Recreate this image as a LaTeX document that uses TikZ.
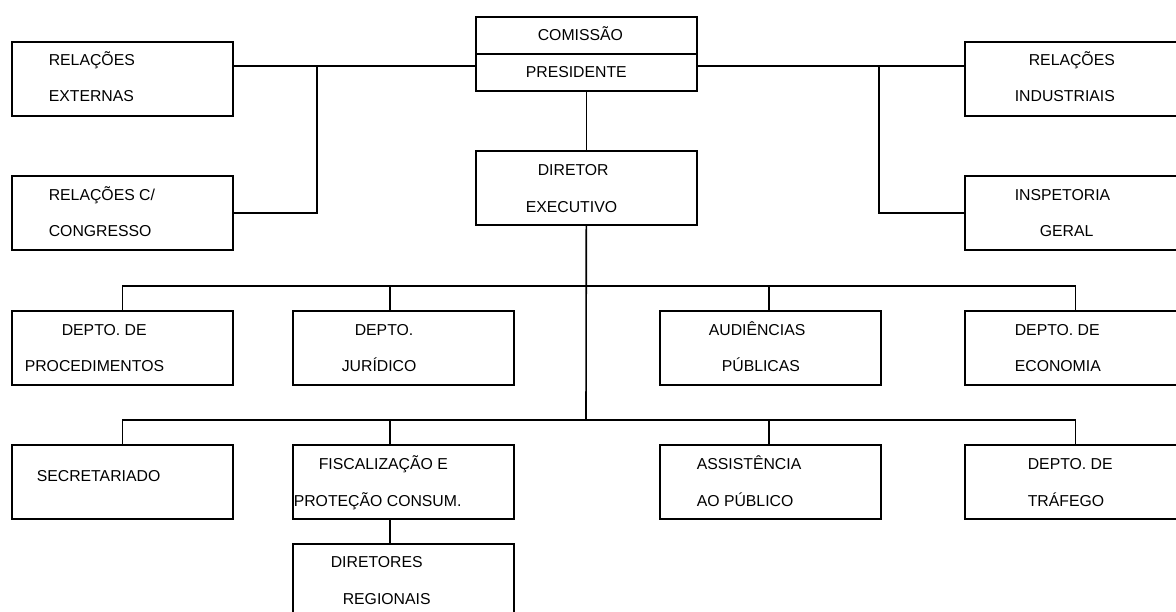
\documentclass[tikz,border=0pt]{standalone}
\usepackage{fontspec}
\setmainfont{Liberation Sans}
\usetikzlibrary{positioning,calc}

\tikzset{
  orgbox/.style={draw, rectangle, anchor=north west, inner sep=0pt,
                 minimum width=221pt, minimum height=74pt},
  lbl/.style={anchor=base west, inner sep=0pt,
              font=\fontsize{15.8}{19}\selectfont}
}

\begin{document}
\begin{tikzpicture}[x=1pt, y=-1pt, line width=1.6pt]
                    \useasboundingbox (0,0) rectangle (1176,612);
                    \clip (0,0) rectangle (1176,612);
                    % boxes
                    \node[orgbox] (comissao) at (475,16)  {};
                    \node[orgbox] (diretor)  at (475,150) {};
                    \node[orgbox] (relext)   at (11,41)   {};
                    \node[orgbox] (relcong)  at (11,175)  {};
                    \node[orgbox] (relind)   at (964,41)  {};
                    \node[orgbox] (inspet)   at (964,175) {};
                    \node[orgbox] (procd)    at (11,310)  {};
                    \node[orgbox] (jurid)    at (292,310) {};
                    \node[orgbox] (audien)   at (659,310) {};
                    \node[orgbox] (econ)     at (964,310) {};
                    \node[orgbox] (secret)   at (11,444)  {};
                    \node[orgbox] (fiscal)   at (292,444) {};
                    \node[orgbox] (assist)   at (659,444) {};
                    \node[orgbox] (trafego)  at (964,444) {};
                    \node[orgbox] (regio)    at (292,543) {};
                    \draw (comissao.west) -- (comissao.east);
                    % junctions
                    \coordinate (jl) at (317,66);
                    \coordinate (jr) at (879,66);
                    \coordinate (b1) at (586,286);
                    \coordinate (b2) at (586,420);
                    \coordinate (k1) at (390,286);
                    \coordinate (k2) at (390,420);
                    \coordinate (m1) at (769,286);
                    \coordinate (m2) at (769,420);
                    % connectors
                    \draw (relext.east |- jl) -- (comissao.west |- jl);
                    \draw (comissao.east |- jr) -- (relind.west |- jr);
                    \draw (jl) |- (relcong.east);
                    \draw (jr) |- (inspet.west);
                    \draw (comissao) -- (diretor);
                    \draw (diretor.south) -- (b2);
                    \draw (procd.north) |- (b1) -| (econ.north);
                    \draw (secret.north) |- (b2) -| (trafego.north);
                    \draw (k1) -- (k1 |- jurid.north);
                    \draw (m1) -- (m1 |- audien.north);
                    \draw (k2) -- (k2 |- fiscal.north);
                    \draw (m2) -- (m2 |- assist.north);
                    \draw (k2 |- fiscal.south) -- (k2 |- regio.north);
                    % texts
                    \node[lbl] (comissaoA) at (537,41)    {COMISSÃO};
                    \node[lbl] (comissaoB) at (525,77.7)  {PRESIDENTE};
                    \node[lbl] (diretorA)  at (537,175.7) {DIRETOR};
                    \node[lbl] (diretorB)  at (525,212.3) {EXECUTIVO};
                    \node[lbl] (relextA)   at (48,65.7)   {RELAÇÕES};
                    \node[lbl] (relextB)   at (48,102)    {EXTERNAS};
                    \node[lbl] (relcongA)  at (48,200.7)  {RELAÇÕES C/};
                    \node[lbl] (relcongB)  at (48,237)    {CONGRESSO};
                    \node[lbl] (relindA)   at (1028,65.7) {RELAÇÕES};
                    \node[lbl] (relindB)   at (1014,102)  {INDUSTRIAIS};
                    \node[lbl] (inspetA)   at (1014,200.7) {INSPETORIA};
                    \node[lbl] (inspetB)   at (1039,237)  {GERAL};
                    \node[lbl] (procdA)    at (61,335.7)  {DEPTO. DE};
                    \node[lbl] (procdB)    at (24,371.7)  {PROCEDIMENTOS};
                    \node[lbl] (juridA)    at (354,335.7) {DEPTO.};
                    \node[lbl] (juridB)    at (341,371.7) {JURÍDICO};
                    \node[lbl] (audienA)   at (708,335.7) {AUDIÊNCIAS};
                    \node[lbl] (audienB)   at (721,371.7) {PÚBLICAS};
                    \node[lbl] (econA)     at (1014,335.7) {DEPTO. DE};
                    \node[lbl] (econB)     at (1014,371.7) {ECONOMIA};
                    \node[lbl] (secretA)   at (36,481.7)  {SECRETARIADO};
                    \node[lbl] (fiscalA)   at (318,469.3) {FISCALIZAÇÃO E};
                    \node[lbl] (fiscalB)   at (293,506.7) {PROTEÇÃO CONSUM.};
                    \node[lbl] (assistA)   at (696,469.3) {ASSISTÊNCIA};
                    \node[lbl] (assistB)   at (696,506.7) {AO PÚBLICO};
                    \node[lbl] (trafegoA)  at (1027,469.3) {DEPTO. DE};
                    \node[lbl] (trafegoB)  at (1027,506.7) {TRÁFEGO};
                    \node[lbl] (regioA)    at (330,567.3) {DIRETORES};
                    \node[lbl] (regioB)    at (342,604.3) {REGIONAIS};
                \end{tikzpicture}
\end{document}
